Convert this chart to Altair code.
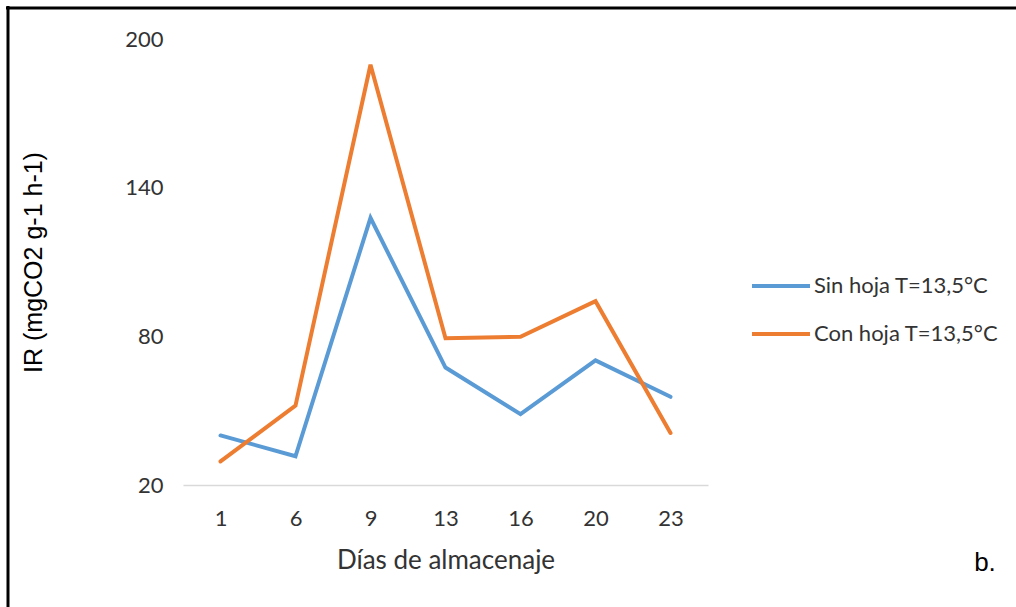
import altair as alt
import pandas as pd

days = ["1", "6", "9", "13", "16", "20", "23"]
sin_hoja = [40, 31.6, 127.8, 67.4, 48.6, 70.3, 55.6]
con_hoja = [29.5, 52, 189.6, 79.2, 79.8, 94.2, 41]
series_names = ["Sin hoja T=13,5°C", "Con hoja T=13,5°C"]
colors = ["#5B9BD5", "#ED7D31"]
y_ticks = [20, 80, 140, 200]

rows = []
for d, a, b in zip(days, sin_hoja, con_hoja):
    rows.append({"dia": d, "serie": series_names[0], "ir": a})
    rows.append({"dia": d, "serie": series_names[1], "ir": b})
df = pd.DataFrame(rows)

W, H = 525, 446
L, T = 183, 39

lines = alt.Chart(df).mark_line(strokeWidth=4, strokeCap="round", strokeJoin="miter").encode(
    x=alt.X("dia:O", sort=days,
            axis=alt.Axis(title="Días de almacenaje", labelAngle=0, labelFontSize=22,
                          labelFont="Lato", labelColor="#333333", labelPadding=23,
                          ticks=False, domainColor="#D9D9D9", domainWidth=1.5,
                          titleFont="Lato", titleFontSize=26, titleFontWeight="normal",
                          titleColor="#333333", titleX=W / 2, titleY=75,
                          titleBaseline="middle", titleAlign="center")),
    y=alt.Y("ir:Q", scale=alt.Scale(domain=[20, 200], nice=False, zero=False),
            axis=alt.Axis(title="IR (mgCO2 g-1 h-1)", values=y_ticks, grid=False,
                          domain=False, ticks=False, labelFontSize=22, labelFont="Lato",
                          labelColor="#333333", labelPadding=20,
                          titleFont="Liberation Sans", titleFontSize=25,
                          titleFontWeight="normal", titleColor="#000000",
                          titleAngle=270, titleX=33 - L, titleY=262 - T,
                          titleAlign="center", titleBaseline="middle")),
    color=alt.Color("serie:N", sort=series_names,
                    scale=alt.Scale(domain=series_names, range=colors),
                    legend=alt.Legend(title=None, orient="none", legendX=750 - L,
                                      legendY=273 - T, symbolType="stroke",
                                      symbolStrokeWidth=4, symbolSize=3364,
                                      clipHeight=26, rowPadding=22, padding=0,
                                      labelOffset=2, labelFont="Lato", labelFontSize=22,
                                      labelColor="#333333", labelLimit=300)),
)

label_df = pd.DataFrame({"t": ["b."]})
btext = alt.Chart(label_df).mark_text(font="Liberation Sans", fontSize=26, color="#000000",
                                       align="center", baseline="middle").encode(
    x=alt.value(985 - L), y=alt.value(563 - T), text="t:N")

top_border = alt.Chart(label_df).mark_rule(color="#000000", strokeWidth=3).encode(
    x=alt.value(6 - L), x2=alt.value(1016 - L), y=alt.value(8 - T))
left_border = alt.Chart(label_df).mark_rule(color="#000000", strokeWidth=3).encode(
    x=alt.value(8 - L), y=alt.value(6 - T), y2=alt.value(607 - T))

chart = alt.layer(lines, btext, top_border, left_border).properties(
    width=W, height=H,
    autosize=alt.AutoSizeParams(type="none"),
    padding={"left": L, "top": T, "right": 1016 - L - W, "bottom": 607 - T - H},
    background="white",
).configure_view(stroke=None)

chart.save("out.html", embed_options={"renderer": "svg", "actions": False})
